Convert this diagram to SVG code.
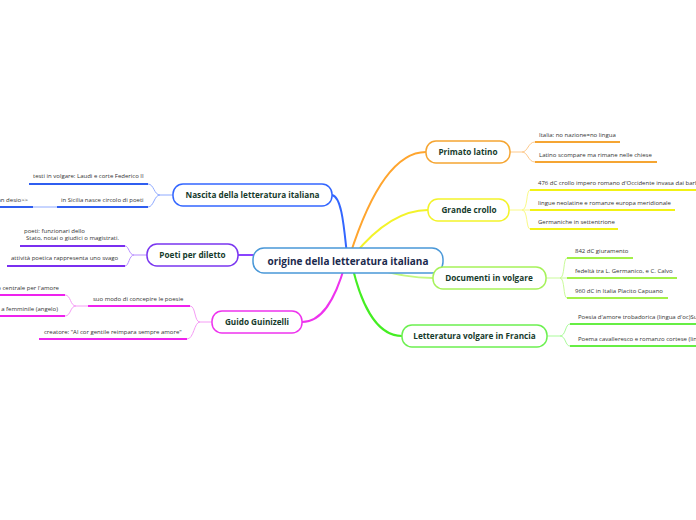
<svg xmlns="http://www.w3.org/2000/svg" width="696" height="520" viewBox="0 0 696 520">
<style>
.t{font-family:"Open Sans","Noto Sans","Liberation Sans",sans-serif;font-size:6px;fill:#333}
.n{font-family:"Open Sans","Noto Sans","Liberation Sans",sans-serif;font-size:8.2px;font-weight:bold;fill:#163b2c;text-anchor:middle}
.c{font-family:"Open Sans","Noto Sans","Liberation Sans",sans-serif;font-size:10px;font-weight:bold;fill:#1b2a4d;text-anchor:middle}
.box{fill:#fff;stroke-width:1.5}
.m{fill:none;stroke-width:2}
.b{fill:none;stroke-width:1}
.u{fill:none;stroke-width:2}
.end{text-anchor:end}
</style>
<rect width="696" height="520" fill="#fff"/>
<g id="connectors">
  <path class="m" stroke="#3366ff" d="M332,195 C342,197 344,228 347,255"/>
  <path class="m" stroke="#ffa52e" d="M350,255 C366,205 390,152 426,152"/>
  <path class="m" stroke="#f3f32a" d="M354,255 C376,228 400,210 428,210"/>
  <path class="m" stroke="#c4f880" d="M360,265 C390,272 405,278 433,278"/>
  <path class="m" stroke="#44ee22" d="M352,265 C360,300 375,336 402,336"/>
  <path class="m" stroke="#ee33ee" d="M345,265 C335,300 322,322 302,322"/>
  <path class="m" stroke="#8a44ff" d="M238,255 L255,255"/>
</g>
<g id="central">
  <rect class="box" x="253" y="248" width="190" height="25" rx="11" stroke="#4a98d8"/>
  <text class="c" x="348" y="264.5">origine della letteratura italiana</text>
</g>
<g id="primato">
  <path class="b" stroke="#fdc98c" d="M510,152 H522 C528,152 528,142 535,142 M522,152 C528,152 528,162 535,162"/>
  <rect class="box" x="426" y="141" width="84" height="22" rx="10" stroke="#f5a532"/>
  <text class="n" x="468" y="155">Primato latino</text>
  <path class="u" stroke="#f5a532" d="M535,142 H620 M535,162 H657"/>
  <text class="t" x="539" y="137">Italia: no nazione=no lingua</text>
  <text class="t" x="539" y="157">Latino scompare ma rimane nelle chiese</text>
</g>
<g id="grande">
  <path class="b" stroke="#fafa88" d="M509,210 H530 M522,210 C528,210 526,190 530,190 M522,210 C528,210 526,229 530,229"/>
  <rect class="box" x="428" y="199" width="81" height="22" rx="10" stroke="#f3f32a"/>
  <text class="n" x="469" y="213">Grande crollo</text>
  <path class="u" stroke="#f2f215" d="M530,190 H696 M530,210 H675 M530,229 H618"/>
  <text class="t" x="538" y="185">476 dC crollo impero romano d'Occidente invasa dai barbari</text>
  <text class="t" x="538" y="205">lingue neolatine e romanze europa meridionale</text>
  <text class="t" x="538" y="224">Germaniche in settentrione</text>
</g>
<g id="documenti">
  <path class="b" stroke="#c9fb99" d="M546,278 H567 M560,278 C565,278 563,258 567,258 M560,278 C565,278 563,298 567,298"/>
  <rect class="box" x="433" y="267" width="113" height="22" rx="10" stroke="#a6f25a"/>
  <text class="n" x="489" y="281">Documenti in volgare</text>
  <path class="u" stroke="#a2f048" d="M567,258 H633 M567,278 H677 M567,298 H668"/>
  <text class="t" x="575" y="253">842 dC giuramento</text>
  <text class="t" x="575" y="273">fedeltà tra L. Germanico, e C. Calvo</text>
  <text class="t" x="575" y="293">960 dC in Italia Placito Capuano</text>
</g>
<g id="letteratura">
  <path class="b" stroke="#a9fb99" d="M547,336 H560 C566,336 565,324 570,324 M560,336 C566,336 565,346 570,346"/>
  <rect class="box" x="402" y="325" width="145" height="22" rx="10" stroke="#6cf050"/>
  <text class="n" x="474.5" y="339">Letteratura volgare in Francia</text>
  <path class="u" stroke="#66ee44" d="M570,324 H696 M570,346 H696"/>
  <text class="t" x="578" y="319">Poesia d'amore trobadorica (lingua d'oc)Sud</text>
  <text class="t" x="578" y="341">Poema cavalleresco e romanzo cortese (lingua d'oïl)</text>
</g>
<g id="nascita">
  <path class="b" stroke="#8faaff" d="M173,195 H160 C154,195 154,184 148,184 M160,195 C154,195 154,207 148,207 M57,207 H33"/>
  <rect class="box" x="173" y="184" width="159" height="22" rx="10" stroke="#3366ff"/>
  <text class="n" x="252.5" y="198">Nascita della letteratura italiana</text>
  <path class="u" stroke="#2f5ef0" d="M29,184 H148 M57,207 H148 M0,207 H33"/>
  <text class="t" x="33" y="178">testi in volgare: Laudi e corte Federico II</text>
  <text class="t" x="61" y="202">in Sicilia nasce circolo di poeti</text>
  <text class="t end" x="28" y="202">an desio&gt;&gt;</text>
</g>
<g id="poeti">
  <path class="b" stroke="#b78dff" d="M147,255 H134 C129,255 129,246 125,246 M134,255 C129,255 129,266 125,266"/>
  <rect class="box" x="147" y="244" width="91" height="22" rx="10" stroke="#7a36f0"/>
  <text class="n" x="192.5" y="258">Poeti per diletto</text>
  <path class="u" stroke="#7a2ff0" d="M20,246 H125 M7,266 H125"/>
  <text class="t" x="24" y="233">poeti:  funzionari dello</text>
  <text class="t" x="26" y="240">Stato, notai o giudici o magistrati.</text>
  <text class="t" x="11" y="260">attività poetica rappresenta uno svago</text>
</g>
<g id="guido">
  <path class="b" stroke="#f59cf5" d="M212,322 H200 C194,322 196,306 190,306 M200,322 C194,322 194,339 187,339 M88,306 H76 C70,306 71,295 65,295 M76,306 C70,306 71,316 65,316"/>
  <rect class="box" x="212" y="311" width="90" height="22" rx="10" stroke="#ee33ee"/>
  <text class="n" x="257" y="325">Guido Guinizelli</text>
  <path class="u" stroke="#ee22ee" d="M88,306 H190 M39,339 H187 M0,295 H65 M0,316 H65"/>
  <text class="t" x="93" y="301">suo modo di concepire le poesie</text>
  <text class="t" x="44" y="334">creatore: "Al cor gentile reimpara sempre amore"</text>
  <text class="t end" x="59" y="290">o centrale per l'amore</text>
  <text class="t end" x="58" y="311">a femminile (angelo)</text>
</g>
</svg>
